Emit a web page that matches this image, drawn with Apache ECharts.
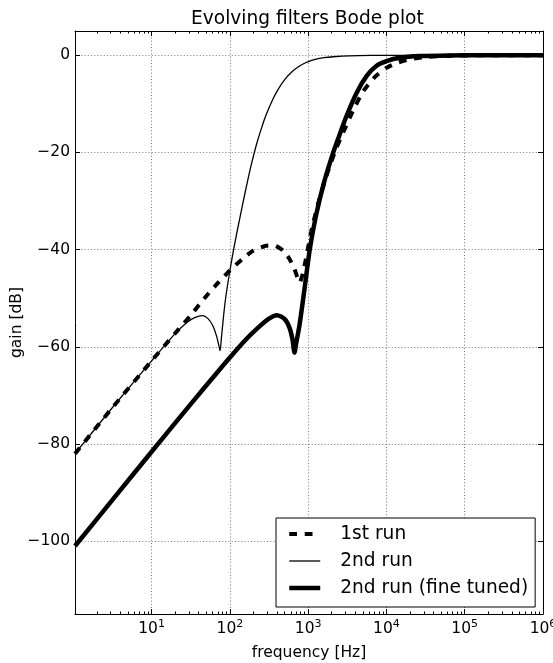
<!DOCTYPE html>
<html><head><meta charset="utf-8">
<script src="https://cdn.jsdelivr.net/npm/echarts@6/dist/echarts.min.js"></script>
<style>html,body{margin:0;padding:0;background:#fff}#c{width:553px;height:663px}</style>
</head><body><div id="c"></div>
<script>
// ---- data (frequency in Hz, gain in dB) ----
const seriesNames = ['1st run', '2nd run', '2nd run (fine tuned)'];

const freq1 = [1.05, 3.16, 10, 20, 31.6, 46.8, 70.8, 100, 145, 200, 288, 355, 427, 501, 575, 661, 724, 776, 851, 933, 1000, 1122, 1380, 1738, 2239, 2818, 3715, 5012, 7079, 10000, 13490, 19950, 32360, 63100, 158500, 1000000];
const gain1 = [-82.0, -72.5, -62.9, -57.2, -53.5, -50.1, -46.8, -44.3, -41.9, -40.2, -39.2, -39.1, -39.6, -40.5, -41.9, -43.8, -45.6, -46.8, -45.0, -42.0, -39.5, -35.5, -29.8, -24.5, -19.5, -15.8, -11.5, -7.5, -4.5, -2.6, -1.6, -0.8, -0.35, -0.1, 0, 0];

const freq2 = [1.05, 3.16, 10, 20, 28.2, 35.5, 44.7, 52.5, 60.3, 67.6, 72.4, 75, 77.6, 83.2, 89.1, 100, 110, 126, 145, 166, 191, 219, 251, 288, 355, 417, 501, 631, 794, 1000, 1259, 1585, 2089, 3388, 6310, 15850, 1000000];
const gain2 = [-82.0, -72.5, -62.9, -57.3, -55.0, -54.0, -53.6, -54.2, -55.6, -57.8, -59.8, -60.8, -58.5, -53.5, -49.5, -44.3, -40.5, -35.6, -30.8, -26.3, -22.0, -18.3, -15.2, -12.4, -9.0, -6.9, -5.0, -3.3, -2.1, -1.3, -0.8, -0.5, -0.3, -0.1, -0.02, 0, 0];

const freq3 = [1.05, 3.16, 10, 31.6, 63.1, 100, 158, 224, 316, 398, 501, 575, 631, 668, 708, 776, 891, 1047, 1259, 1585, 1995, 2399, 3090, 4169, 5623, 7413, 10000, 14790, 26920, 63100, 158500, 1000000];
const gain3 = [-101.0, -91.5, -81.6, -71.8, -66.0, -62.2, -58.6, -56.2, -54.2, -53.5, -54.3, -56.0, -58.5, -61.2, -59.0, -55.5, -48.5, -40.0, -33.0, -26.3, -21.0, -17.3, -12.5, -7.7, -4.2, -2.2, -1.2, -0.5, -0.15, -0.02, 0, 0];

const xMajorTicks = [10, 100, 1000, 10000, 100000, 1000000];
const xMajorExponents = ['1', '2', '3', '4', '5', '6'];
const xMinorTicks = [2, 3, 4, 5, 6, 7, 8, 9,
  20, 30, 40, 50, 60, 70, 80, 90,
  200, 300, 400, 500, 600, 700, 800, 900,
  2000, 3000, 4000, 5000, 6000, 7000, 8000, 9000,
  20000, 30000, 40000, 50000, 60000, 70000, 80000, 90000,
  200000, 300000, 400000, 500000, 600000, 700000, 800000, 900000];
const yTicks = [0, -20, -40, -60, -80, -100];

// ---- chart ----
const FONT = 'DejaVu Sans';
const X_MIN = 1.05, X_MAX = 1000000, Y_MIN = -115, Y_MAX = 5;
const zip = (a, b) => a.map((v, i) => [v, b[i]]);

const frame = { color: '#000', width: 1 };
const grid = { color: '#555', width: 0.8, type: [1, 2.2] };
const styles = [
  { color: '#000', width: 4, type: [7.75, 7.75], cap: 'butt' },
  { color: '#000', width: 1.3, type: 'solid' },
  { color: '#000', width: 4.5, type: 'solid' }
];

function xAx(extra) {
  return Object.assign({
    type: 'log', logBase: 10, min: X_MIN, max: X_MAX, gridIndex: 0,
    axisLine: { show: false, onZero: false, lineStyle: frame },
    axisLabel: { show: false },
    splitLine: { show: false },
    minorTick: { show: false }, minorSplitLine: { show: false }
  }, extra);
}

const chart = echarts.init(document.getElementById('c'), null, { renderer: 'canvas' });
chart.setOption({
  animation: false,
  backgroundColor: '#fff',
  title: {
    text: 'Evolving filters Bode plot',
    left: 191, top: 10, padding: 0,
    textStyle: { fontFamily: FONT, fontSize: 18.6, fontWeight: 'normal', color: '#000' }
  },
  grid: { left: 75, right: 10, top: 31, bottom: 49, containLabel: false, outerBoundsMode: 'none', show: false },
  legend: {
    data: seriesNames.map((n, i) => ({ name: n, lineStyle: Object.assign({}, styles[i]) })),
    orient: 'vertical', left: 276, top: 518,
    itemWidth: 31, itemHeight: 14, itemGap: 7,
    padding: [6, 7, 9, 11],
    itemStyle: { opacity: 0, borderWidth: 0 },
    borderColor: '#000', borderWidth: 1, borderRadius: 0, backgroundColor: '#fff',
    textStyle: { fontFamily: FONT, fontSize: 18.6, color: '#000', lineHeight: 20, padding: [0, 0, 0, 15] }
  },
  xAxis: [
    xAx({
      position: 'bottom',
      name: 'frequency [Hz]', nameLocation: 'middle', nameGap: 31, nameMoveOverlap: false,
      nameTextStyle: { fontFamily: FONT, fontSize: 15.5, color: '#000' },
      axisLine: { show: true, onZero: false, lineStyle: frame },
      axisTick: { show: true, inside: true, length: 5, lineStyle: frame, customValues: xMajorTicks },
      axisLabel: {
        show: true, customValues: xMajorTicks, margin: 5, color: '#000',
        formatter: function (v) {
          const i = xMajorTicks.indexOf(v);
          return '{b|10}{s|' + xMajorExponents[i] + '}';
        },
        rich: {
          b: { fontFamily: FONT, fontSize: 15.5, color: '#000' },
          s: { fontFamily: FONT, fontSize: 11, color: '#000', padding: [0, 0, 8, 0] }
        }
      },
      splitLine: { show: true, lineStyle: grid }
    }),
    xAx({ position: 'bottom', axisTick: { show: true, inside: true, length: 2.5, lineStyle: frame, customValues: xMinorTicks } }),
    xAx({
      position: 'top',
      axisLine: { show: true, onZero: false, lineStyle: frame },
      axisTick: { show: true, inside: true, length: 5, lineStyle: frame, customValues: xMajorTicks }
    }),
    xAx({ position: 'top', axisTick: { show: true, inside: true, length: 2.5, lineStyle: frame, customValues: xMinorTicks } })
  ],
  yAxis: [
    {
      type: 'value', position: 'left', min: Y_MIN, max: Y_MAX, gridIndex: 0,
      name: 'gain [dB]', nameLocation: 'middle', nameGap: 50, nameRotate: 90, nameMoveOverlap: false,
      nameTextStyle: { fontFamily: FONT, fontSize: 15.5, color: '#000' },
      axisLine: { show: true, onZero: false, lineStyle: frame },
      axisTick: { show: true, inside: true, length: 5, lineStyle: frame, customValues: yTicks },
      axisLabel: {
        show: true, customValues: yTicks, margin: 5, fontFamily: FONT, fontSize: 15.5, color: '#000',
        formatter: v => (v < 0 ? '\u2212' + Math.abs(v) : String(v))
      },
      splitLine: { show: true, lineStyle: grid }
    },
    {
      type: 'value', position: 'right', min: Y_MIN, max: Y_MAX, gridIndex: 0,
      axisLine: { show: true, onZero: false, lineStyle: frame },
      axisTick: { show: true, inside: true, length: 5, lineStyle: frame, customValues: yTicks },
      axisLabel: { show: false },
      splitLine: { show: false }
    }
  ],
  series: [
    {
      name: seriesNames[0], type: 'line', xAxisIndex: 0, yAxisIndex: 0,
      data: zip(freq1, gain1), symbol: 'none', showSymbol: false, smooth: 0.25,
      lineStyle: styles[0], itemStyle: { color: '#000' }
    },
    {
      name: seriesNames[1], type: 'line', xAxisIndex: 0, yAxisIndex: 0,
      data: zip(freq2, gain2), symbol: 'none', showSymbol: false, smooth: 0.25,
      lineStyle: styles[1], itemStyle: { color: '#000' }
    },
    {
      name: seriesNames[2], type: 'line', xAxisIndex: 0, yAxisIndex: 0,
      data: zip(freq3, gain3), symbol: 'none', showSymbol: false, smooth: 0.25,
      lineStyle: styles[2], itemStyle: { color: '#000' }
    }
  ]
});
</script>
</body></html>
